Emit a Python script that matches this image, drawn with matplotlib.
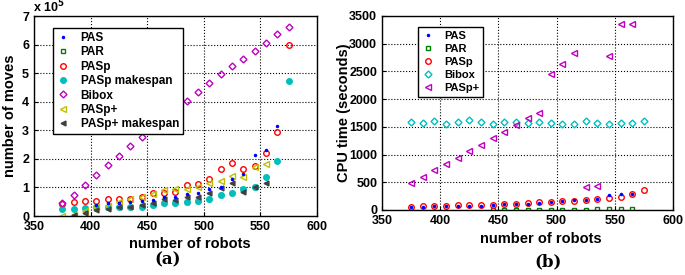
import numpy as np
import matplotlib
matplotlib.use("Agg")
import matplotlib.pyplot as plt

plt.rcParams['font.family'] = ['Liberation Sans', 'DejaVu Sans']
plt.rcParams['font.weight'] = 'bold'

nan = np.nan
robots = [375, 385, 395, 405, 415, 425, 435, 445, 455, 465, 475,
          485, 495, 505, 515, 525, 535, 545, 555, 565, 575]

# (a) number of moves, in units of 10^5
pas_moves = [nan, nan, nan, 0.40, 0.45, 0.45, 0.48, 0.53, 0.56, 0.67, 0.67,
             0.77, 0.81, 0.93, 1.02, 1.29, 1.46, 2.13, 2.32, 3.14, nan]
par_moves = [nan, nan, nan, nan, nan, nan, nan, 0.35, 0.38, 0.44, 0.47,
             0.50, 0.52, 0.58, 0.72, 0.80, 0.90, 1.00, nan, nan, nan]
pasp_moves = [0.42, 0.48, 0.51, 0.53, 0.59, 0.60, 0.60, 0.67, 0.79, 0.81, 0.85,
              1.07, 1.13, 1.28, 1.63, 1.84, 1.63, 1.75, 2.19, 2.93, 6.00]
pasp_span = [0.25, 0.26, 0.28, 0.30, 0.31, 0.31, 0.32, 0.33, 0.38, 0.46, 0.47,
             0.50, 0.53, 0.60, 0.73, 0.81, 0.93, 1.00, 1.37, 1.93, 4.72]
bibox_moves = [0.44, 0.74, 1.09, 1.45, 1.79, 2.09, 2.44, 2.76, 3.08, 3.41, 3.74,
               4.04, 4.34, 4.67, 4.97, 5.25, 5.50, 5.79, 6.06, 6.37, 6.62]
paspp_moves = [0.01, 0.03, 0.17, 0.30, 0.36, 0.48, 0.58, 0.66, 0.78, 0.90, 0.96,
               0.96, 1.00, 1.14, 1.23, 1.40, 1.37, 1.72, 1.83, nan, nan]
paspp_span = [nan, 0.02, 0.12, 0.21, 0.25, 0.30, 0.33, 0.40, 0.44, 0.58, 0.56,
              0.65, 0.65, 0.81, 0.97, 1.16, 0.85, 1.00, 1.16, nan, nan]

# (b) CPU time in seconds
pas_cpu = [50, 62, 68, 68, 80, 80, 80, 86, 104, 110, 116,
           134, 140, 158, 175, 185, 205, 271, 283, 295, nan]
par_cpu = [nan, nan, nan, nan, nan, nan, nan, 5, 5, 5, 5,
           5, 5, 5, 5, 5, 15, 15, 10, 10, nan]
pasp_cpu = [54, 66, 72, 72, 84, 84, 84, 90, 108, 114, 120,
            138, 144, 162, 168, 180, 198, 211, 235, 283, 361]
bibox_cpu = [1582, 1576, 1606, 1546, 1588, 1618, 1582, 1552, 1582, 1582, 1570,
             1582, 1570, 1546, 1546, 1600, 1576, 1552, 1570, 1570, 1600]
paspp_cpu = [493, 601, 716, 824, 944, 1059, 1179, 1294, 1408, 1534, 1655,
             1757, 2455, 2629, 2828, 410, 433, 2780, 3351, 3351, nan]

fig = plt.figure(figsize=(6.85, 2.75), dpi=100)
ax1 = fig.add_axes([0.0496, 0.2145, 0.4131, 0.7273])
ax2 = fig.add_axes([0.5577, 0.2364, 0.4248, 0.7055])

def style(ax):
    ax.grid(True, color='black', linestyle=':', linewidth=0.8)
    ax.set_axisbelow(True)
    for s in ax.spines.values():
        s.set_linewidth(1.0)
    ax.tick_params(direction='in', length=3, labelsize=9, width=0.8)
    ax.set_xlim(350, 600)
    ax.set_xticks([350, 400, 450, 500, 550, 600])

def legend(ax, anchor, size, spacing):
    leg = ax.legend(loc='upper left', bbox_to_anchor=anchor, fontsize=size,
                    frameon=True, fancybox=False, edgecolor='black', framealpha=1,
                    handlelength=1.0, labelspacing=spacing, borderpad=0.35,
                    handletextpad=1.0, borderaxespad=0)
    leg.get_frame().set_linewidth(1.0)
    leg.set_zorder(5)

# (a)
ax1.plot(robots, pas_moves, ls='none', marker='.', ms=3, color='blue', label='PAS', zorder=4)
ax1.plot(robots, par_moves, ls='none', marker='s', ms=3.5, mfc='none', mew=1, color='#008000', label='PAR')
ax1.plot(robots, pasp_moves, ls='none', marker='o', ms=4, mfc='none', mew=1, color='red', label='PASp')
ax1.plot(robots, pasp_span, ls='none', marker='o', ms=4, color='#00bfbf', label='PASp makespan')
ax1.plot(robots, bibox_moves, ls='none', marker='D', ms=3.5, mfc='none', mew=1, color='#bf00bf', label='Bibox')
ax1.plot(robots, paspp_moves, ls='none', marker='<', ms=4, mfc='none', mew=1, color='#bfbf00', label='PASp+')
ax1.plot(robots, paspp_span, ls='none', marker='<', ms=3.5, color='#404040', label='PASp+ makespan')
style(ax1)
ax1.set_ylim(0, 7)
ax1.set_yticks(range(8))
ax1.set_xlabel('number of robots', fontsize=10.5, fontweight='bold')
ax1.xaxis.set_label_coords(0.55, -0.105)
ax1.set_ylabel('number of moves', fontsize=10.5, fontweight='bold')
ax1.yaxis.set_label_coords(-0.06, 0.5)
fig.text(0.048, 0.945, r'x 10$^{5}$', fontsize=9, fontweight='bold', va='bottom')
legend(ax1, (0.067, 0.94), 8.5, 0.2)
fig.text(0.245, 0.055, '(a)', fontsize=12, fontweight='bold', family='DejaVu Serif',
         ha='center', va='center')

# (b)
ax2.plot(robots, pas_cpu, ls='none', marker='.', ms=3, color='blue', label='PAS', zorder=4)
ax2.plot(robots, par_cpu, ls='none', marker='s', ms=3.5, mfc='none', mew=1, color='#008000', label='PAR')
ax2.plot(robots, pasp_cpu, ls='none', marker='o', ms=4, mfc='none', mew=1, color='red', label='PASp')
ax2.plot(robots, bibox_cpu, ls='none', marker='D', ms=3.5, mfc='none', mew=1, color='#00bfbf', label='Bibox')
ax2.plot(robots, paspp_cpu, ls='none', marker='<', ms=4, mfc='none', mew=1, color='#bf00bf', label='PASp+')
style(ax2)
ax2.set_ylim(0, 3500)
ax2.set_yticks(range(0, 3501, 500))
ax2.set_xlabel('number of robots', fontsize=10.5, fontweight='bold')
ax2.xaxis.set_label_coords(0.545, -0.115)
ax2.set_ylabel('CPU time (seconds)', fontsize=10.5, fontweight='bold')
ax2.yaxis.set_label_coords(-0.105, 0.5)
legend(ax2, (0.124, 0.943), 8, 0.28)
fig.text(0.80, 0.047, '(b)', fontsize=12, fontweight='bold', family='DejaVu Serif',
         ha='center', va='center')

plt.savefig('out.png', dpi=100)
